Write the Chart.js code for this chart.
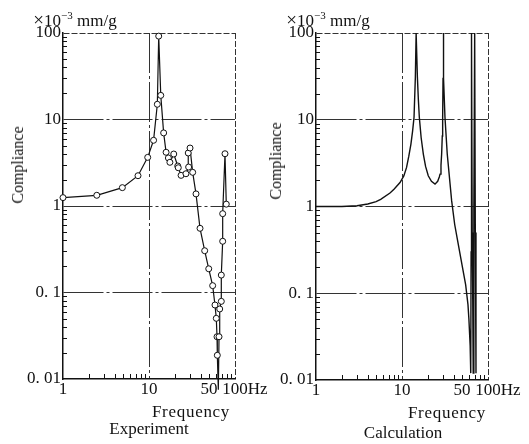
<!DOCTYPE html>
<html>
<head>
<meta charset="utf-8">
<script src="https://cdn.jsdelivr.net/npm/chart.js@4.4.0/dist/chart.umd.min.js"></script>
<style>
    body { margin: 0; background: #fff; }
    #quadro { position: relative; width: 529px; height: 444px; overflow: hidden; font-family: "Liberation Serif", "DejaVu Serif", serif; color: #111; }
    canvas { position: absolute; top: 0; }
    #grafExp { left: 0; }
    #grafCalc { left: 264px; }
    .txt { position: absolute; white-space: nowrap; line-height: 1; transform: translate(-50%, -50%); font-size: 17px; }
    .unidade { font-size: 17px; }
    .unidade .vezes { font-size: 19px; }
    .unidade sup { font-size: 11px; }
    .vertical { transform: translate(-50%, -50%) rotate(-90deg); font-size: 16px; }
    .freq { letter-spacing: 0.7px; }
</style>
</head>
<body>
<div id="quadro">
    <canvas id="grafExp" width="290" height="444"></canvas>
    <canvas id="grafCalc" width="265" height="444"></canvas>

    <div class="txt unidade" style="left:75px; top:19px;"><span class="vezes">×</span>10<sup>−3</sup> mm/g</div>
    <div class="txt unidade" style="left:328px; top:19px;"><span class="vezes">×</span>10<sup>−3</sup> mm/g</div>
    <div class="txt vertical" style="left:18px; top:165px;">Compliance</div>
    <div class="txt vertical" style="left:276px; top:161px;">Compliance</div>
    <div class="txt freq" style="left:191px; top:411px;">Frequency</div>
    <div class="txt freq" style="left:447px; top:412px;">Frequency</div>
    <div class="txt" style="left:149px; top:428px;">Experiment</div>
    <div class="txt" style="left:403px; top:432px;">Calculation</div>
</div>

<script>
// Experiment (measured points)
const expFreq = [1, 2.47, 4.9, 7.45, 9.66, 11.3, 12.5, 12.97, 13.7, 14.8, 15.8, 16.8, 17.5, 19.4, 21.6, 21.9,
    23.6, 26.9, 28.9, 28.6, 30, 32.2, 35.2, 39.2, 44.4, 49.5, 55, 58.5, 60.6, 61.8, 62.3, 64,
    65.2, 66.4, 69.3, 69.3, 71.9, 71.9, 76.5, 79.2];
const expComp = [1.25, 1.33, 1.63, 2.24, 3.65, 5.75, 15, 92, 19, 7.0, 4.18, 3.59, 3.2, 3.99, 2.9, 2.77,
    2.26, 2.36, 2.82, 4.1, 4.68, 2.45, 1.38, 0.552, 0.304, 0.188, 0.12, 0.0717, 0.0503, 0.0308, 0.0188, 0.0075,
    0.0308, 0.0645, 0.079, 0.159, 0.391, 0.815, 4.02, 1.05];

// Calculation (curve)
const calcFreq = [1, 2, 3, 4, 5, 5.65, 7.25, 8.07, 9.48, 10.5, 11.3, 12, 12.7, 13.3, 13.8, 14.3, 14.6,
    15.1, 15.5, 15.9, 16.7, 17.7, 18.8, 20.2, 22, 24.2, 26, 27.2, 27.7, 28.4, 28.9, 29.4, 29.7, 30, 30.2,
    30.6, 31.6, 33.6, 37.8, 41, 44, 48.2, 52, 55, 58.5, 60, 62, 63, 63.6, 64.3, 65.5, 66.3, 67.3,
    68.5, 70, 71.2, 72.5];
const calcComp = [1.0, 1.0, 1.02, 1.07, 1.14, 1.21, 1.43, 1.58, 1.89, 2.25, 2.82, 3.8, 5.25, 7.5, 10.7, 31, 100,
    31, 17, 10.7, 6.2, 4.02, 2.9, 2.26, 1.95, 1.81, 1.95, 2.2, 2.36, 3.0, 4.02, 6.5, 10.7, 30, 100,
    30, 10.7, 4.0, 1.16, 0.62, 0.42, 0.255, 0.17, 0.125, 0.074, 0.05, 0.025, 0.012, 0.3, 100, 0.5, 0.12, 0.012,
    1, 100, 0.5, 0.012];

const xTickValues = [1, 10, 50, 100];
const xTickLabels = ["1", "10", "50", "100"];
const yTickValues = [0.01, 0.1, 1, 10, 100];
const yTickLabels = ["0. 01", "0. 1", "1", "10", "100"];
const minorFactors = [2, 3, 4, 5, 6, 7, 8, 9];

const fonte = { family: "'Liberation Serif', 'DejaVu Serif', serif", size: 17 };
const tinta = "#111";

// small inward ticks + "Hz" after the 100 label
const marcasPlugin = {
    id: "marcas",
    afterDraw(chart) {
        const { ctx, chartArea, scales } = chart;
        ctx.save();
        ctx.strokeStyle = tinta;
        ctx.lineWidth = 1;
        [1, 10].forEach(dec => minorFactors.forEach(f => {
            const x = Math.round(scales.x.getPixelForValue(dec * f)) + 0.5;
            ctx.beginPath();
            ctx.moveTo(x, chartArea.bottom);
            ctx.lineTo(x, chartArea.bottom - 5);
            ctx.stroke();
        }));
        [0.01, 0.1, 1, 10].forEach(dec => minorFactors.forEach(f => {
            const y = Math.round(scales.y.getPixelForValue(dec * f)) + 0.5;
            ctx.beginPath();
            ctx.moveTo(chartArea.left, y);
            ctx.lineTo(chartArea.left + 4, y);
            ctx.stroke();
        }));

        ctx.font = fonte.size + "px " + fonte.family;
        ctx.fillStyle = tinta;
        ctx.textAlign = "left";
        ctx.textBaseline = "middle";
        const x100 = scales.x.getPixelForValue(100);
        const w = ctx.measureText("100").width;
        ctx.fillText("Hz", x100 + w / 2, chartArea.bottom + fonte.size * 0.6);
        ctx.restore();
    }
};

function gridColor(ctx, visiveis) {
    if (!ctx.tick) return "rgba(0,0,0,0)";
    return visiveis.includes(ctx.tick.value) ? "#333" : "rgba(0,0,0,0)";
}

function criarGrafico(id, dados, larguraY, padDireita, alturaX, comPontos) {
    const ponto = comPontos ? {
        pointRadius: 3, pointBackgroundColor: "#fff", pointBorderColor: tinta, pointBorderWidth: 1, clip: false
    } : { pointRadius: 0 };

    return new Chart(document.getElementById(id).getContext("2d"), {
        type: "scatter",
        data: {
            datasets: [Object.assign({
                data: dados,
                showLine: true,
                borderColor: tinta,
                borderWidth: comPontos ? 1.2 : 1.4,
                tension: 0
            }, ponto)]
        },
        options: {
            responsive: false,
            animation: false,
            devicePixelRatio: 1,
            layout: { padding: { top: 33, right: padDireita, left: 0, bottom: 0 } },
            plugins: { legend: { display: false }, tooltip: { enabled: false } },
            scales: {
                x: {
                    type: "logarithmic",
                    min: 1,
                    max: 100,
                    afterBuildTicks: s => { s.ticks = xTickValues.map(v => ({ value: v })); },
                    afterFit: s => { s.height = alturaX; },
                    ticks: {
                        autoSkip: false, maxRotation: 0, padding: 0, color: tinta, font: fonte,
                        callback: (v, i) => xTickLabels[i]
                    },
                    grid: { drawTicks: false, lineWidth: 1, color: c => gridColor(c, [10, 100]) },
                    border: { color: tinta, width: 1.5, dash: c => (c.tick && c.tick.value === 100) ? [6, 2] : [40, 3, 3, 3] }
                },
                y: {
                    type: "logarithmic",
                    min: 0.01,
                    max: 100,
                    afterBuildTicks: s => { s.ticks = yTickValues.map(v => ({ value: v })); },
                    afterFit: s => { s.width = larguraY; },
                    ticks: {
                        autoSkip: false, padding: 2, color: tinta, font: fonte,
                        callback: (v, i) => yTickLabels[i]
                    },
                    grid: { drawTicks: false, lineWidth: 1, color: c => gridColor(c, [0.1, 1, 10, 100]) },
                    border: { color: tinta, width: 1.5, dash: c => (c.tick && c.tick.value === 100) ? [6, 2] : [40, 3, 3, 3] }
                }
            }
        },
        plugins: [marcasPlugin]
    });
}

const pontosExp = expFreq.map((f, i) => ({ x: f, y: expComp[i] }));
const pontosCalc = calcFreq.map((f, i) => ({ x: f, y: calcComp[i] }));

criarGrafico("grafExp", pontosExp, 63, 55, 65, true);
criarGrafico("grafCalc", pontosCalc, 52, 41, 64, false);
</script>
</body>
</html>
